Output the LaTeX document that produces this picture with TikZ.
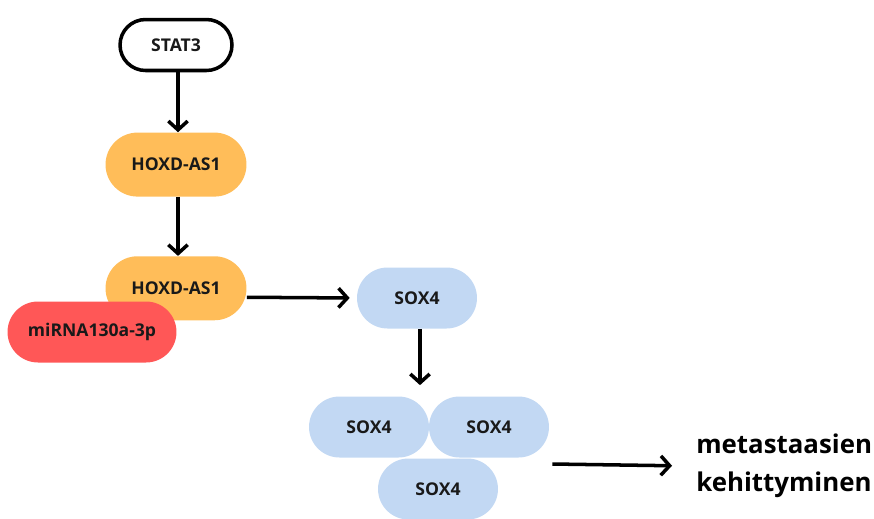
\documentclass[tikz,border=0pt]{standalone}
\usepackage{fontspec}
\setmainfont{Open Sans}
\usetikzlibrary{arrows.meta, positioning, calc}
\definecolor{hoxdorange}{HTML}{FFBD59}
\definecolor{mirnared}{HTML}{FF5757}
\definecolor{soxblue}{HTML}{C2D8F3}
\tikzset{
    pill/.style={rectangle, rounded corners=0.6cm, align=center, font=\fontsize{10}{12}\selectfont\bfseries, text=black!90},
    start/.style={pill, draw, line width=2pt, fill=white, minimum width=2.24cm, minimum height=1.02cm, rounded corners=0.51cm},
    hoxd/.style={pill, fill=hoxdorange, minimum width=2.82cm, minimum height=1.28cm, rounded corners=0.64cm},
    mirna/.style={pill, fill=mirnared, minimum width=3.38cm, minimum height=1.22cm, rounded corners=0.61cm},
    sox/.style={pill, fill=soxblue, minimum width=2.4cm, minimum height=1.22cm, rounded corners=0.61cm},
    arrow/.style={line width=2pt, -{Straight Barb[length=5pt, width=11pt]}}
}
\begin{document}
\begin{tikzpicture}[x=0.02cm, y=-0.02cm]
    \useasboundingbox (0,0) rectangle (874,518);

    % Nodes
    \node (stat3) [start] at (176,45) {STAT3};
    \node (hoxd1) [hoxd, below=1.2cm of stat3] {HOXD-AS1};
    \node (hoxd2) [hoxd, below=1.18cm of hoxd1] {HOXD-AS1};
    \node (mirna) [mirna] at (92,332) {miRNA130a-3p};
    \node (sox4a) [sox] at (417,298) {SOX4};
    \node (sox4l) [sox] at (369,427) {SOX4};
    \node (sox4r) [sox] at (489,427) {SOX4};
    \node (sox4b) [sox] at (438,489) {SOX4};
    \node (outcome) [anchor=west, align=left, inner sep=0.12cm, font=\fontsize{14.7}{21.6}\selectfont\bfseries] at (690,466) {metastaasien\\kehittyminen};

    % Arrows
    \draw [arrow] ([xshift=0.04cm]stat3.south) -- ([xshift=0.04cm]hoxd1.north);
    \draw [arrow] ([xshift=0.04cm]hoxd1.south) -- ([xshift=0.04cm]hoxd2.north);
    \draw [arrow, shorten >=0.14cm] ($(hoxd2.east)+(0,9)$) -- (sox4a.west);
    \draw [arrow, shorten >=0.22cm] ([xshift=0.06cm]sox4a.south) -- ([xshift=0.06cm]sox4a.south |- sox4l.north);
    \draw [arrow, shorten >=0.36cm] ($(sox4r.east |- outcome.west)+(3,-2)$) -- (outcome.west);

\end{tikzpicture}
\end{document}
